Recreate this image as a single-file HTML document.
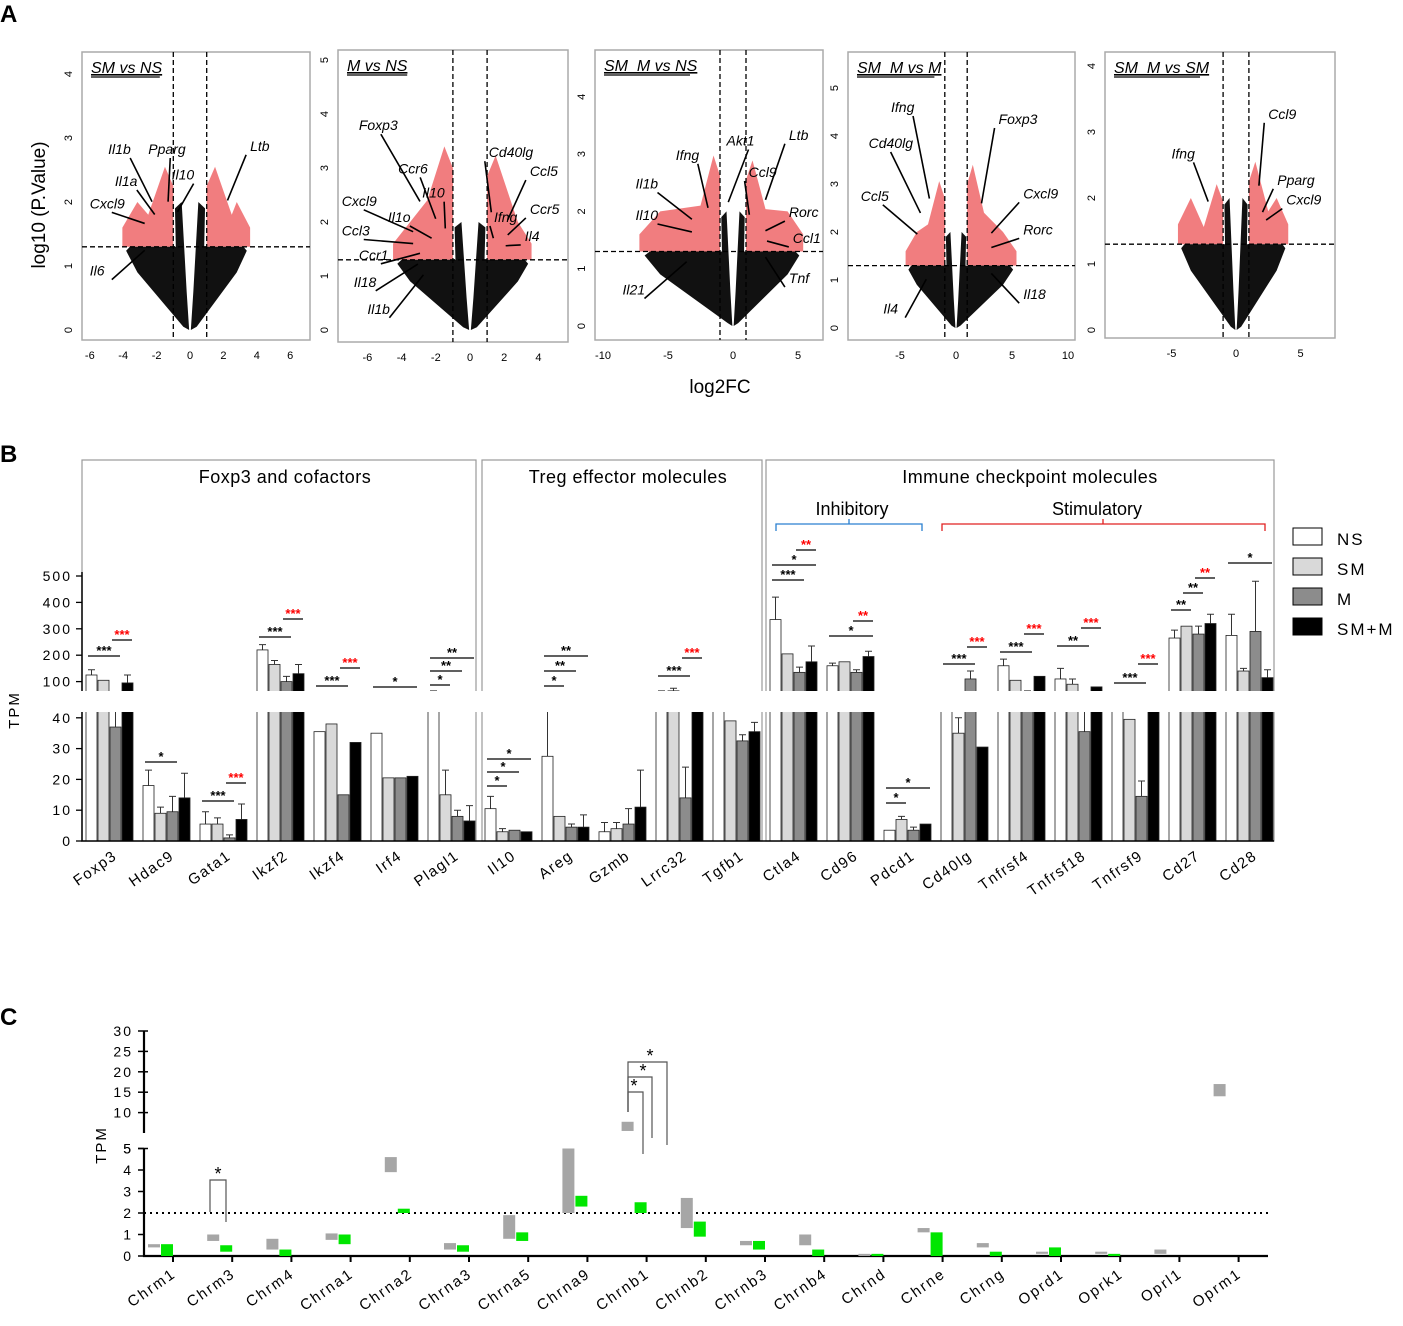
<!DOCTYPE html>
<html><head><meta charset="utf-8"><style>
body{margin:0;background:#fff;}
svg{display:block;font-family:"Liberation Sans",sans-serif;}
</style></head><body>
<svg id="fig" width="1403" height="1326" viewBox="0 0 1403 1326" xmlns="http://www.w3.org/2000/svg">
<text x="0" y="22" font-size="24" font-weight="bold">A</text>
<text x="0" y="462" font-size="24" font-weight="bold">B</text>
<text x="0" y="1025" font-size="24" font-weight="bold">C</text>
<text transform="translate(45,205) rotate(-90)" text-anchor="middle" font-size="19">log10 (P.Value)</text>
<text x="720" y="393" text-anchor="middle" font-size="19">log2FC</text>
<g id="gA"></g><g id="gB"></g><g id="gC"></g>
</svg>
<script>
const NS='http://www.w3.org/2000/svg';
function mk(parent,tag,attrs,text){const e=document.createElementNS(NS,tag);for(const k in attrs)e.setAttribute(k,attrs[k]);if(text!==undefined)e.textContent=text;parent.appendChild(e);return e;}

/* ---------- Panel A data ---------- */
const volcanoTitles=['SM vs NS','M vs NS','SM_M vs NS','SM_M vs M','SM_M vs SM'];
const volcanoXTicks=[[-6,-4,-2,0,2,4,6],[-6,-4,-2,0,2,4],[-10,-5,0,5],[-5,0,5,10],[-5,0,5]];
const volcanoYTicks=[[0,1,2,3,4],[0,1,2,3,4,5],[0,1,2,3,4],[0,1,2,3,4,5],[0,1,2,3,4]];
const volcanoSpreadLeft=[-4.5,-5,-8,-5,-5];
const volcanoSpreadRight=[4,4,6,6,4.5];
const volcanoRedTopLeft=[3.0,4.0,3.5,3.6,2.6];
const volcanoRedTopRight=[3.0,3.8,3.4,4.0,3.0];
const volcanoGenes=[
 [['Il1b',-4.9,2.75],['Pparg',-2.5,2.75],['Il1a',-4.5,2.25],['Il10',-1.1,2.35],['Cxcl9',-6,1.9],['Il6',-6,0.85],['Ltb',3.6,2.8]],
 [['Foxp3',-6.5,3.7],['Ccr6',-4.2,2.9],['Il10',-2.8,2.45],['Cxcl9',-7.5,2.3],['Il1o',-4.8,2.0],['Ccl3',-7.5,1.75],['Ccr1',-6.5,1.3],['Il18',-6.8,0.8],['Il1b',-6.0,0.3],['Cd40lg',1.1,3.2],['Ccl5',3.5,2.85],['Ifng',1.4,2.0],['Ccr5',3.5,2.15],['Il4',3.2,1.65]],
 [['Ifng',-4.4,2.9],['Akt1',-0.5,3.15],['Ltb',4.3,3.25],['Il1b',-7.5,2.4],['Ccl9',1.2,2.6],['Il10',-7.5,1.85],['Rorc',4.3,1.9],['Ccl1',4.6,1.45],['Il21',-8.5,0.55],['Tnf',4.3,0.75]],
 [['Ifng',-5.8,4.5],['Cd40lg',-7.8,3.75],['Foxp3',3.8,4.25],['Ccl5',-8.5,2.65],['Cxcl9',6,2.7],['Rorc',6,1.95],['Il18',6,0.6],['Il4',-6.5,0.3]],
 [['Ifng',-5,2.6],['Ccl9',2.5,3.2],['Pparg',3.2,2.2],['Cxcl9',3.9,1.9]]
];
const panelsA=[
 {x0:82,x1:310,y0:52,y1:340,zx:190,ux:16.7,zy:330,uy:64},
 {x0:338,x1:568,y0:50,y1:342,zx:470,ux:17.1,zy:330,uy:54},
 {x0:595,x1:823,y0:50,y1:340,zx:733,ux:13,zy:326,uy:57.3},
 {x0:848,x1:1075,y0:52,y1:340,zx:956,ux:11.2,zy:328,uy:48},
 {x0:1105,x1:1335,y0:52,y1:338,zx:1236,ux:12.9,zy:330,uy:66}
];
const gA=document.getElementById('gA');
panelsA.forEach((p,i)=>{
 const g=mk(gA,'g',{});
 
 
 const X=v=>p.zx+v*p.ux, Y=v=>p.zy-v*p.uy;
 const fr=mk(g,'rect',{x:p.x0,y:p.y0,width:p.x1-p.x0,height:p.y1-p.y0,fill:'none',stroke:'#aaa','stroke-width':1.5});
 
 
 const thr=Y(1.3);
 const sL=volcanoSpreadLeft[i], sR=volcanoSpreadRight[i], tL=volcanoRedTopLeft[i], tR=volcanoRedTopRight[i];
 const rl=mk(g,'polygon',{fill:'#e8262a',opacity:0.6,points:`${X(-1)},${thr} ${X(-1)},${Y(tL*0.75)} ${X(-1.5)},${Y(tL*0.85)} ${X(-2.5)},${Y(tL*0.6)} ${X(sL*0.7)},${Y(2.0)} ${X(sL*0.9)},${Y(1.6)} ${X(sL*0.9)},${thr}`});
 
 
 const rr=mk(g,'polygon',{fill:'#e8262a',opacity:0.6,points:`${X(1)},${thr} ${X(1)},${Y(tR*0.75)} ${X(1.5)},${Y(tR*0.85)} ${X(2.5)},${Y(tR*0.6)} ${X(sR*0.7)},${Y(2.0)} ${X(sR*0.9)},${Y(1.6)} ${X(sR*0.9)},${thr}`});
 
 
 const bl=mk(g,'polygon',{fill:'#111',points:`${X(-0.05)},${Y(0)} ${X(-0.4)},${Y(0.05)} ${X(sL*0.7)},${Y(0.9)} ${X(sL*0.85)},${thr+4} ${X(sL*0.8)},${thr} ${X(-0.85)},${thr} ${X(-0.9)},${Y(1.9)} ${X(-0.5)},${Y(2.0)} ${X(-0.2)},${Y(0.6)}`});
 
 
 const br=mk(g,'polygon',{fill:'#111',points:`${X(0.05)},${Y(0)} ${X(0.4)},${Y(0.05)} ${X(sR*0.7)},${Y(0.9)} ${X(sR*0.85)},${thr+4} ${X(sR*0.8)},${thr} ${X(0.85)},${thr} ${X(0.9)},${Y(1.9)} ${X(0.5)},${Y(2.0)} ${X(0.2)},${Y(0.6)}`});
 
 
 [[X(-1),p.y0,X(-1),p.y1],[X(1),p.y0,X(1),p.y1],[p.x0,thr,p.x1,thr]].forEach(l=>{
  const ln=mk(g,'line',{x1:l[0],y1:l[1],x2:l[2],y2:l[3],stroke:'#000','stroke-width':1.3,'stroke-dasharray':'5,3'});
  
  
 });
 volcanoXTicks[i].forEach(t=>{
  const tx=mk(g,'text',{x:X(t),y:p.y1+19,'text-anchor':'middle','font-size':11},t);
  
  
 });
 volcanoYTicks[i].forEach(t=>{
  const tx=mk(g,'text',{transform:`translate(${p.x0-10},${Y(t)}) rotate(-90)`,'text-anchor':'middle','font-size':11},t);
  
  
 });
 const tt=mk(g,'text',{x:p.x0+9,y:p.y0+21,'font-size':16,'font-style':'italic','text-decoration':'underline'},volcanoTitles[i]);
 
 
 const ul=mk(g,'line',{x1:p.x0+9,y1:p.y0+25,x2:p.x0+9+volcanoTitles[i].length*8.6,y2:p.y0+25,stroke:'#000','stroke-width':1.2});
 
 
 volcanoGenes[i].forEach(gn=>{
  const tx=mk(g,'text',{x:X(gn[1]),y:Y(gn[2]),'font-size':14,'font-style':'italic'},gn[0]);
  
  
  const sx=X(gn[1])+(gn[1]<0?22:-4), sy=Y(gn[2])+4;
  const tx2=gn[1]<0?X(-1.4):X(1.5), ty2=Y(1.55);
  const ar=mk(g,'line',{x1:sx,y1:sy,x2:sx+(tx2-sx)*0.6,y2:sy+(ty2-sy)*0.6,stroke:'#000','stroke-width':1.6});
  
  
 });
});

/* ---------- Panel B data ---------- */
const bGenes=['Foxp3','Hdac9','Gata1','Ikzf2','Ikzf4','Irf4','Plagl1','Il10','Areg','Gzmb','Lrrc32','Tgfb1','Ctla4','Cd96','Pdcd1','Cd40lg','Tnfrsf4','Tnfrsf18','Tnfrsf9','Cd27','Cd28'];
const bSeriesNames=['NS','SM','M','SM+M'];
const bNS  =[125,18,5.5,220,35.5,35,45,10.5,27.5,3,55,55,335,160,3.5,45,160,110,50,265,275];
const bSM  =[105,9,5.5,165,38,20.5,15,3,8,4,65,39,205,175,7,35,105,90,39.5,310,140];
const bM   =[37,9.5,1,100,15,20.5,8,3.5,4.5,5.5,14,32.5,135,135,3.5,110,55,35.5,14.5,280,290];
const bSMM =[95,14,7,130,32,21,6.5,3,4.5,11,50,35.5,175,195,5.5,30.5,120,80,45,320,115];
const bErr =[[20,5,4,20,0,0,20,4,18,3,10,5,85,10,0,10,25,40,5,30,80],[0,2,2,15,0,0,8,1,0,2,10,0,0,0,1,5,0,20,0,0,10],[20,5,1,20,0,0,2,0,1,5,10,2,20,10,1,30,10,10,5,30,190],[30,8,5,35,0,0,5,0,4,12,0,3,60,20,0,0,0,0,5,35,30]];
const bUpperTicks=[100,200,300,400,500];
const bLowerTicks=[0,10,20,30,40];
const bSig=[[0,0,2,656,'***','#000'],[0,2,3,640,'***','red'],[1,0,2,762,'*','#000'],[2,0,2,801,'***','#000'],[2,2,3,783,'***','red'],[3,0,2,637,'***','#000'],[3,2,3,619,'***','red'],[4,0,2,686,'***','#000'],[4,2,3,668,'***','red'],[5,0,3,687,'*','#000'],[6,0,3,658,'**','#000'],[6,0,2,671,'**','#000'],[6,0,1,685,'*','#000'],[7,0,3,759,'*','#000'],[7,0,2,772,'*','#000'],[7,0,1,786,'*','#000'],[8,0,3,656,'**','#000'],[8,0,2,671,'**','#000'],[8,0,1,686,'*','#000'],[10,0,2,676,'***','#000'],[10,2,3,658,'***','red'],[12,0,2,580,'***','#000'],[12,0,3,565,'*','#000'],[12,2,3,550,'**','red'],[13,0,3,636,'*','#000'],[13,2,3,621,'**','red'],[14,0,3,788,'*','#000'],[14,0,1,803,'*','#000'],[15,0,2,664,'***','#000'],[15,2,3,647,'***','red'],[16,0,2,652,'***','#000'],[16,2,3,634,'***','red'],[17,0,2,646,'**','#000'],[17,2,3,628,'***','red'],[18,0,2,683,'***','#000'],[18,2,3,664,'***','red'],[19,0,1,610,'**','#000'],[19,1,2,593,'**','#000'],[19,2,3,578,'**','red'],[20,0,3,563,'*','#000']];

const gB=document.getElementById('gB');
const BX=i=>110+i*57;
const BY=v=>v<=40?841-v*3.08:708-v*0.264;
[[82,476,'Foxp3 and cofactors',285],[482,762,'Treg effector molecules',628],[766,1274,'Immune checkpoint molecules',1030]].forEach(b=>{
 const r=mk(gB,'rect',{x:b[0],y:460,width:b[1]-b[0],height:381,fill:'none',stroke:'#999','stroke-width':1.2});
 
 
 const t=mk(gB,'text',{x:b[3],y:483,'text-anchor':'middle','font-size':18,'letter-spacing':'0.5'},b[2]);
 
 
});
const inh=mk(gB,'text',{x:852,y:515,'text-anchor':'middle','font-size':18},'Inhibitory');


const stim=mk(gB,'text',{x:1097,y:515,'text-anchor':'middle','font-size':18},'Stimulatory');


const brB=mk(gB,'path',{d:'M776,531 V524 H922 V531 M849,524 V519',fill:'none',stroke:'#2a7fd0','stroke-width':1.3});


const brR=mk(gB,'path',{d:'M942,531 V524 H1265 V531 M1103,524 V519',fill:'none',stroke:'#e02020','stroke-width':1.3});


const bColors=['#fff','#d9d9d9','#8c8c8c','#000'];
const bSeries=[bNS,bSM,bM,bSMM];
bGenes.forEach((gname,i)=>{
 bSeries.forEach((s,j)=>{
  const x=BX(i)-24+j*12, y=BY(s[i]);
  const e=bErr[j][i];
  if(e>0){const ey=BY(s[i]+e);
   const el=mk(gB,'path',{d:`M${x+5.5},${y} V${ey} M${x+2},${ey} H${x+9}`,stroke:'#333','stroke-width':1,fill:'none'});
   
   }
  const r=mk(gB,'rect',{x:x,y:y,width:11,height:841-y,fill:bColors[j],stroke:'#222','stroke-width':0.8});
  
  
 });
 const lb=mk(gB,'text',{transform:`translate(${BX(i)+8},${858}) rotate(-35)`,'text-anchor':'end','font-size':15,'letter-spacing':'1.5'},gname);
 
 
});
const band=mk(gB,'rect',{x:60,y:691,width:1215,height:21,fill:'#fff'});


const ax=mk(gB,'path',{d:'M82,572 V691 M82,712 V841 H1274',stroke:'#000','stroke-width':1.5,fill:'none'});


bUpperTicks.concat(bLowerTicks).forEach((t,k)=>{
 const y=k<5?708-t*0.264:841-t*3.08;
 mk(gB,'line',{x1:76,y1:y,x2:82,y2:y,stroke:'#000','stroke-width':1.3});
 const tx=mk(gB,'text',{x:72,y:y+5,'text-anchor':'end','font-size':14,'letter-spacing':'2'},t);
 
 
});
const yt=mk(gB,'text',{transform:'translate(19,710) rotate(-90)','text-anchor':'middle','font-size':15,'letter-spacing':'2'},'TPM');


bSig.forEach(s=>{
 const x1=BX(s[0])-24+s[1]*12+2, x2=BX(s[0])-24+s[2]*12+10;
 const l=mk(gB,'line',{x1:x1,y1:s[3],x2:x2,y2:s[3],stroke:'#000','stroke-width':1.2});
 
 
 const t=mk(gB,'text',{x:(x1+x2)/2,y:s[3]-1,'text-anchor':'middle','font-size':13,'font-weight':'bold',fill:s[5]},s[4]);
 
 
});
bSeriesNames.forEach((n,j)=>{
 const r=mk(gB,'rect',{x:1293,y:528+j*30,width:29,height:17,fill:bColors[j],stroke:'#000','stroke-width':1});
 
 
 const t=mk(gB,'text',{x:1337,y:545+j*30,'font-size':17,'letter-spacing':'2'},n);
 
 
});

/* ---------- Panel C data ---------- */
const cGenes=['Chrm1','Chrm3','Chrm4','Chrna1','Chrna2','Chrna3','Chrna5','Chrna9','Chrnb1','Chrnb2','Chrnb3','Chrnb4','Chrnd','Chrne','Chrng','Oprd1','Oprk1','Oprl1','Oprm1'];
const cGrayLo=[0.4,0.7,0.3,0.75,3.9,0.3,0.8,2.0,5.5,1.3,0.5,0.5,0.0,1.1,0.4,0.1,0.1,0.1,14];
const cGrayHi=[0.55,1.0,0.8,1.05,4.6,0.6,1.9,5.0,7.75,2.7,0.7,1.0,0.1,1.3,0.6,0.2,0.2,0.3,17];
const cGreenLo=[0.0,0.2,0.0,0.55,2.0,0.2,0.7,2.3,2.0,0.9,0.3,0.0,0.0,0.0,0.0,0.0,0.0,null,null];
const cGreenHi=[0.55,0.5,0.3,1.0,2.2,0.5,1.1,2.8,2.5,1.6,0.7,0.3,0.1,1.1,0.2,0.4,0.1,null,null];
const cUpperTicks=[5,10,15,20,25,30];
const cLowerTicks=[0,1,2,3,4,5];
const cThreshold=2;
const gC=document.getElementById('gC');
const CX=i=>173+i*59.2;
const CY=v=>v<=5?1256-v*21.5:1133-(v-5)*4.08;
const axC=mk(gC,'path',{d:'M144,1031 V1133 M144,1148 V1256 H1268',stroke:'#000','stroke-width':2.2,fill:'none'});


cUpperTicks.forEach(t=>{const y=CY(t);
 mk(gC,'line',{x1:138,y1:y,x2:148,y2:y,stroke:'#000','stroke-width':1.5});
 const tx=mk(gC,'text',{x:133,y:y+5,'text-anchor':'end','font-size':14,'letter-spacing':'2'},t);
 
 });
cLowerTicks.forEach(t=>{const y=1256-t*21.5;
 mk(gC,'line',{x1:138,y1:y,x2:144,y2:y,stroke:'#000','stroke-width':1.5});
 const tx=mk(gC,'text',{x:133,y:y+5,'text-anchor':'end','font-size':14,'letter-spacing':'2'},t);
 
 });
const ytc=mk(gC,'text',{transform:'translate(106,1145) rotate(-90)','text-anchor':'middle','font-size':15,'letter-spacing':'2'},'TPM');


const dl=mk(gC,'line',{x1:144,y1:CY(cThreshold),x2:1268,y2:CY(cThreshold),stroke:'#000','stroke-width':2,'stroke-dasharray':'2,4'});


cGenes.forEach((g,i)=>{
 const x=CX(i);
 mk(gC,'line',{x1:x,y1:1256,x2:x,y2:1262,stroke:'#000','stroke-width':2});
 const gr=mk(gC,'rect',{x:x-25,y:CY(cGrayHi[i]),width:12,height:Math.max(2,CY(cGrayLo[i])-CY(cGrayHi[i])),fill:'#a6a6a6'});
 
 
 if(cGreenLo[i]!==null){
  const gn=mk(gC,'rect',{x:x-12,y:CY(cGreenHi[i]),width:12,height:Math.max(2,CY(cGreenLo[i])-CY(cGreenHi[i])),fill:'#00e600'});
  
  
 }
 const lb=mk(gC,'text',{transform:`translate(${x+4},${1276}) rotate(-35)`,'text-anchor':'end','font-size':15,'letter-spacing':'2'},g);
 
 
});
const s1=mk(gC,'path',{d:'M210,1212 V1180 H226 V1222',fill:'none',stroke:'#555','stroke-width':1.2});


const st1=mk(gC,'text',{x:218,y:1180,'text-anchor':'middle','font-size':18},'*');


[[628,1092,643,1154,634],[628,1077,652,1138,643],[628,1062,667,1145,650]].forEach(b=>{
 const p=mk(gC,'path',{d:`M${b[0]},1112 V${b[1]} H${b[2]} V${b[3]}`,fill:'none',stroke:'#555','stroke-width':1.2});
 
 
 const t=mk(gC,'text',{x:b[4],y:b[1],'text-anchor':'middle','font-size':18},'*');
 
 
});
</script>
</body></html>
